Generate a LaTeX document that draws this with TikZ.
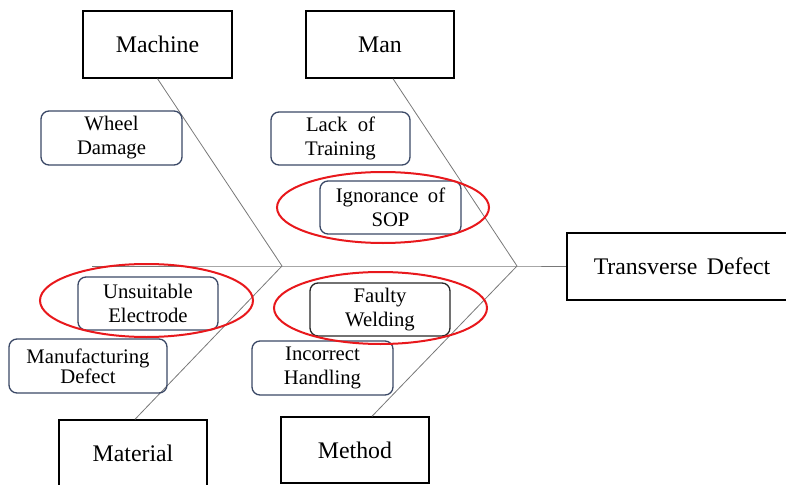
\documentclass[tikz,border=0pt]{standalone}
\usepackage{fontspec}
\setmainfont{Liberation Serif}
\begin{document}
\begin{tikzpicture}[x=1pt,y=-1pt,
  catbox/.style={draw=black, line width=1.4pt, inner sep=0pt,
    font=\fontsize{23.8}{28}\selectfont, align=center},
  causebox/.style={draw=causeblue, line width=1.3pt, rounded corners=8pt,
    inner sep=0pt, font=\fontsize{20.7}{24}\selectfont, align=center,
    minimum height=53pt},
  bone/.style={draw=bonegray, line width=0.8pt},
  mark ring/.style={draw=ringred, line width=2pt}]
\definecolor{causeblue}{RGB}{58,72,102}
\definecolor{bonegray}{RGB}{120,120,120}
\definecolor{ringred}{RGB}{232,24,28}
\useasboundingbox (0,0) rectangle (786,484);
\clip (0,0) rectangle (786,484);

% category boxes
\node[catbox, minimum width=149pt, minimum height=67pt] (machine) at (157.5,44.5) {Machine};
\node[catbox, minimum width=148pt, minimum height=67pt] (man) at (380,44.5) {Man};
\node[catbox, minimum width=148pt, minimum height=67pt] (material) at (133,453.5) {Material};
\node[catbox, minimum width=148pt, minimum height=66pt] (method) at (355,450) {Method};
\node[catbox, minimum width=230pt, minimum height=67pt, text width=230pt] (effect) at (682,266.5)
  {Transverse\hspace{0.4em}Defect};

% spine and bones
\coordinate (tail) at (92,266);
\coordinate (j1) at (282,266);
\coordinate (j2) at (517,266);
\draw[bone] (tail) -- (j1) -- (j2) -- (effect.west |- j2);
\draw[bone] (machine.south) -- (j1);
\draw[bone] ([xshift=13pt]man.south) -- (j2);
\draw[bone] ([xshift=2pt]material.north) -- (j1);
\draw[bone] ([xshift=17pt]method.north) -- (j2);

% causes
\node[causebox, minimum width=141pt, minimum height=54pt] (wheel) at (111.5,138) {Wheel\\Damage};
\node[causebox, minimum width=139pt] (lack) at (340.5,138.5) {Lack\hspace{0.5em}of\\Training};
\node[causebox, minimum width=141pt] (sop) at (390.5,207.5) {Ignorance\hspace{0.45em}of\\SOP};
\node[causebox, minimum width=140pt] (electrode) at (148,303.5) {Unsuitable\\Electrode};
\node[causebox, minimum width=158pt, minimum height=54pt,
  font=\fontsize{20.7}{14.6}\selectfont] (manuf) at (88,366) {Manufacturing\\Defect};
\node[causebox, draw=black!85, minimum width=140pt] (faulty) at (380,309.5) {Faulty\\Welding};
\node[causebox, minimum width=141pt, minimum height=54pt] (handling) at (322.5,368) {Incorrect\\Handling};

% highlighted causes
\draw[mark ring] (383,207.5) ellipse [x radius=106pt, y radius=35.5pt];
\draw[mark ring] (146.5,300.5) ellipse [x radius=106.5pt, y radius=36.5pt];
\draw[mark ring] (380.5,308) ellipse [x radius=106.5pt, y radius=36pt];
\end{tikzpicture}
\end{document}
